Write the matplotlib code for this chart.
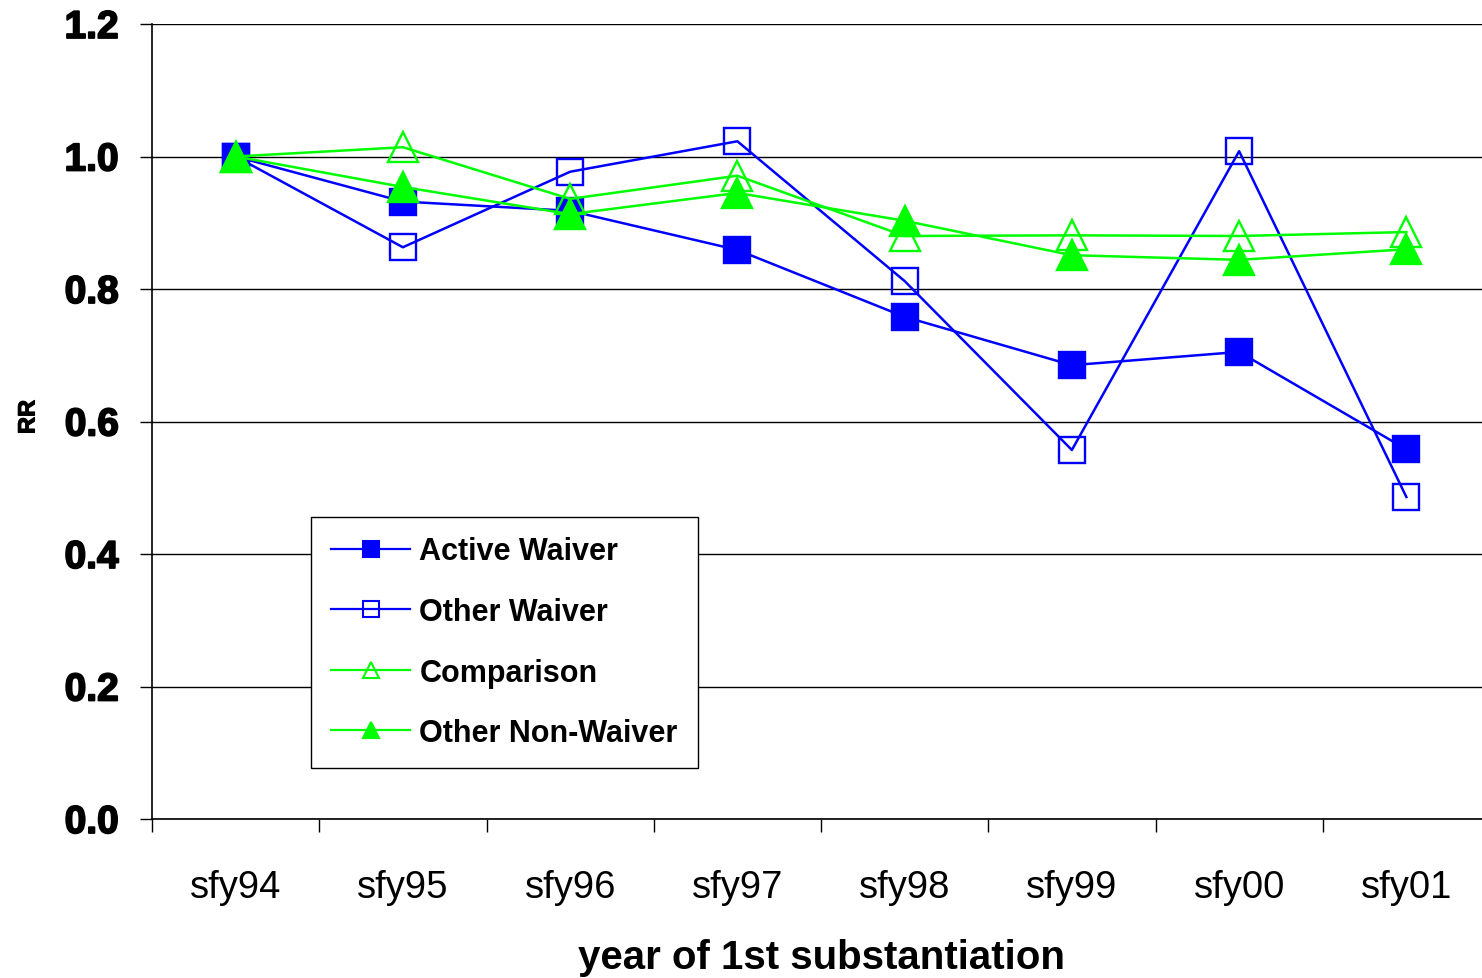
import matplotlib
matplotlib.use("Agg")
import matplotlib.pyplot as plt
import matplotlib.patheffects as pe
from matplotlib.lines import Line2D

anios = ["sfy94", "sfy95", "sfy96", "sfy97", "sfy98", "sfy99", "sfy00", "sfy01"]
active_waiver = [1.0, 0.932, 0.918, 0.859, 0.758, 0.685, 0.705, 0.558]
other_waiver = [1.0, 0.863, 0.977, 1.023, 0.812, 0.557, 1.008, 0.486]
comparison = [1.0, 1.014, 0.936, 0.971, 0.880, 0.881, 0.880, 0.886]
other_non_waiver = [1.0, 0.954, 0.913, 0.945, 0.903, 0.851, 0.844, 0.860]

azul = "#0000FF"
verde = "#00FF00"

fig = plt.figure(figsize=(14.82, 9.79), dpi=100)
# el eje se sale un poco por la derecha, como en el original
ax = fig.add_axes([152/1482, 1 - 820/979, 1338/1482, 795/979])

x = list(range(len(anios)))

# series: (valores, color, marcador, relleno, tamaño)
series = [
    (active_waiver, azul, "s", azul, 19),
    (other_waiver, azul, "s", "none", 19),
    (comparison, verde, "^", "none", 21),
    (other_non_waiver, verde, "^", verde, 21),
]
for valores, color, marcador, relleno, tam in series:
    ax.plot(x, valores, color=color, lw=1.8, marker=marcador, ms=tam,
            markerfacecolor=relleno, markeredgecolor=color, mew=1.7, zorder=3)

ax.set_xlim(-0.5, len(anios) - 0.5)
ax.set_ylim(0, 1.2)
valores_y = [0, 0.2, 0.4, 0.6, 0.8, 1.0, 1.2]
ax.set_yticks(valores_y)
ax.set_yticklabels([f"{v:.1f}" for v in valores_y],
                   fontsize=28, fontweight="bold", family="Liberation Sans")
for t in ax.get_yticklabels():
    t.set_path_effects([pe.withStroke(linewidth=1.3, foreground="black")])
ax.set_xticks([i + 0.5 for i in range(-1, len(anios))], minor=False)
ax.set_xticklabels([])
ax.set_xticks(x, minor=True)
ax.set_xticklabels(anios, minor=True, fontsize=27.5, family="Liberation Sans")
ax.tick_params(axis="x", which="minor", length=0, pad=36)
ax.tick_params(axis="x", which="major", length=9, width=1, direction="out")
ax.tick_params(axis="y", length=9, width=1, direction="out", pad=15)

ax.grid(axis="y", color="black", lw=1, zorder=0)
ax.set_axisbelow(True)
for lado in ["top", "right"]:
    ax.spines[lado].set_visible(False)
ax.spines["left"].set_linewidth(1.2)
ax.spines["bottom"].set_linewidth(1.2)

ax.set_xlabel("year of 1st substantiation", fontsize=29, fontweight="bold",
              family="Liberation Sans", labelpad=24)
rr = fig.text(28/1482, 1 - 418/979, "RR", rotation=90, fontsize=17,
              fontweight="bold", family="Liberation Sans", ha="center", va="center")
rr.set_path_effects([pe.withStroke(linewidth=0.8, foreground="black")])

nombres = ["Active Waiver", "Other Waiver", "Comparison", "Other Non-Waiver"]
manejadores = [
    Line2D([], [], color=c, lw=1.6, marker=m, ms=11, markerfacecolor=f,
           markeredgecolor=c, mew=1.5)
    for _, c, m, f, _ in series
]
leg = ax.legend(manejadores, nombres, loc="lower left",
                bbox_to_anchor=(159/1338, 51/795), borderaxespad=0,
                prop={"family": "Liberation Sans", "weight": "bold", "size": 22},
                frameon=True, fancybox=False, edgecolor="black", framealpha=1,
                handlelength=2.6, handletextpad=0.3, labelspacing=1.0,
                borderpad=0.65)
leg.get_frame().set_linewidth(1)

fig.savefig("out.png", dpi=100)
